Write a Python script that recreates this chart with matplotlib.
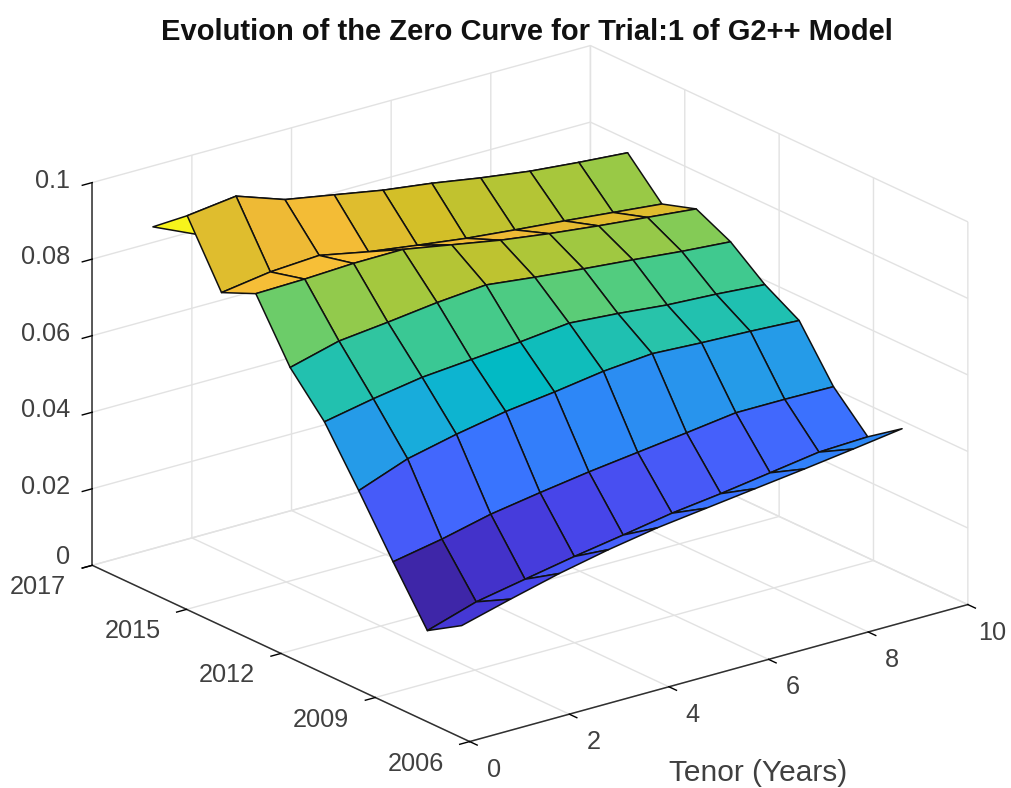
import numpy as np
import matplotlib
matplotlib.use("Agg")
import matplotlib.pyplot as plt
from matplotlib.colors import LinearSegmentedColormap, Normalize
from mpl_toolkits.mplot3d import proj3d

plt.rcParams['font.family'] = ['Liberation Sans', 'DejaVu Sans']

# Tenor and simulation date grid
tenors = [1.08, 2.06, 3.04, 4.03, 5.01, 5.99, 6.97, 7.96, 8.94, 9.92]
dates = [2007.8, 2008.8, 2009.8, 2010.8, 2011.8, 2012.8, 2013.8, 2014.8, 2015.8, 2016.8]

# Zero rates, one row per date
zero_0 = [.0189, .0223, .0255, .0282, .0304, .0320, .0336, .0352, .0369, .0387]
zero_1 = [.0134, .0174, .0198, .0222, .0243, .0265, .0281, .0300, .0319, .0324]
zero_2 = [.0272, .0296, .0326, .0347, .0366, .0382, .0398, .0415, .0415, .0413]
zero_3 = [.0416, .0464, .0493, .0517, .0533, .0552, .0563, .0556, .0551, .0544]
zero_4 = [.0554, .0579, .0600, .0611, .0622, .0636, .0626, .0613, .0606, .0596]
zero_5 = [.0654, .0688, .0702, .0718, .0729, .0714, .0701, .0689, .0676, .0666]
zero_6 = [.0805, .0808, .0814, .0815, .0792, .0769, .0751, .0736, .0723, .0710]
zero_7 = [.0766, .0785, .0793, .0767, .0749, .0732, .0719, .0707, .0694, .0681]
zero_8 = [.0925, .0941, .0897, .0874, .0851, .0834, .0813, .0795, .0783, .0773]
zero_9 = [.0854, .0797, .0771, .0751, .0731, .0710, .0692, .0675, .0659, .0644]

# Colour of the thin strip behind the ridge reads warmer than its height
shade_6 = [.0805, .0808, .0814, .0815, .0792, .0785, .0775, .0770, .0765, .0760]

date_ticks = [2006, 2008.75, 2011.5, 2014.25, 2017]
date_labels = ['2006', '2009', '2012', '2015', '2017']
tenor_ticks = [0, 2, 4, 6, 8, 10]
zero_ticks = [0, 0.02, 0.04, 0.06, 0.08, 0.1]
zero_labels = ['0', '0.02', '0.04', '0.06', '0.08', '0.1']

# parula, every third entry of the 64 colour table
parula = LinearSegmentedColormap.from_list('parula', [
    (.2422, .1504, .6603), (.2647, .1978, .7952), (.2783, .2559, .8991),
    (.2810, .3228, .9579), (.2699, .3892, .9906), (.2206, .4603, .9973),
    (.1786, .5289, .9682), (.1540, .5902, .9218), (.1248, .6459, .8883),
    (.0689, .6948, .8394), (.0067, .7312, .7660), (.1408, .7584, .6842),
    (.2161, .7843, .5923), (.3406, .8008, .4789), (.5044, .7993, .3480),
    (.6720, .7793, .2227), (.8203, .7498, .1535), (.9393, .7288, .2100),
    (.9970, .7659, .2199), (.9786, .8386, .1766), (.9597, .9135, .1423),
    (.9769, .9839, .0805)])

Z = np.array([zero_0, zero_1, zero_2, zero_3, zero_4,
              zero_5, zero_6, zero_7, zero_8, zero_9])
X, Y = np.meshgrid(tenors, dates)
C = Z.copy()
C[6] = shade_6
face = parula(Normalize(Z.min(), Z.max())(C))

fig = plt.figure(figsize=(10.11, 7.88), dpi=100)
ax = fig.add_axes([0.0445, -0.115, 0.9343, 1.1987], projection='3d', proj_type='ortho')
ax.view_init(elev=21, azim=-127.5)
ax.set_box_aspect((628, 620, 410))

surf = ax.plot_surface(X, Y, Z, rstride=1, cstride=1, facecolors=face, shade=False)
surf.set_edgecolor('#101010')
surf.set_linewidth(1.1)

ax.set_xlim(0, 10, view_margin=0)
ax.set_ylim(2006, 2017, view_margin=0)
ax.set_zlim(0, 0.1, view_margin=0)

ax.set_xticks(tenor_ticks)
ax.set_yticks(date_ticks)
ax.set_zticks(zero_ticks)
ax.set_xticklabels([])
ax.set_yticklabels([])
ax.set_zticklabels([])

for axis in (ax.xaxis, ax.yaxis, ax.zaxis):
    axis.set_pane_color((1, 1, 1, 0))
    axis.pane.set_edgecolor('#dcdcdc')
    axis.pane.set_linewidth(1.0)
    axis.line.set_color('#303030')
    axis.line.set_linewidth(1.1)
    axis._axinfo['grid']['color'] = '#e2e2e2'
    axis._axinfo['grid']['linewidth'] = 1.0
    axis._axinfo['tick']['inward_factor'] = 0.25
    axis._axinfo['tick']['outward_factor'] = 0.0
    axis._axinfo['tick']['color'] = '#303030'
    axis._axinfo['tick']['linewidth'] = {True: 1.0, False: 0.8}

# Tick labels sit at a fixed pixel offset from their tick
text_col = '#404040'
M = ax.get_proj()


def tick_label(x, y, z, txt, dx, dy, ha='center'):
    px, py, _ = proj3d.proj_transform(x, y, z, M)
    ax.annotate(txt, (px, py), xytext=(dx, dy), textcoords='offset pixels', ha=ha, va='center',
                fontsize=18.2, color=text_col, annotation_clip=False)


for t in tenor_ticks:
    tick_label(t, 2006, 0, str(t), 24, -28)
for d, lab in zip(date_ticks, date_labels):
    tick_label(0, d, 0, lab, -54, -22)
for v, lab in zip(zero_ticks, zero_labels):
    tick_label(0, 2017, v, lab, -22, 8 if v == 0 else 2, ha='right')

fig.text(758 / 1011, 1 - 773 / 788, 'Tenor (Years)', ha='center', va='center',
         fontsize=21.5, color=text_col)
fig.text(0.521, 0.960, 'Evolution of the Zero Curve for Trial:1 of G2++ Model',
         ha='center', va='center', fontsize=21, fontweight='bold', color='#111111')

fig.savefig('out.png', dpi=100)
